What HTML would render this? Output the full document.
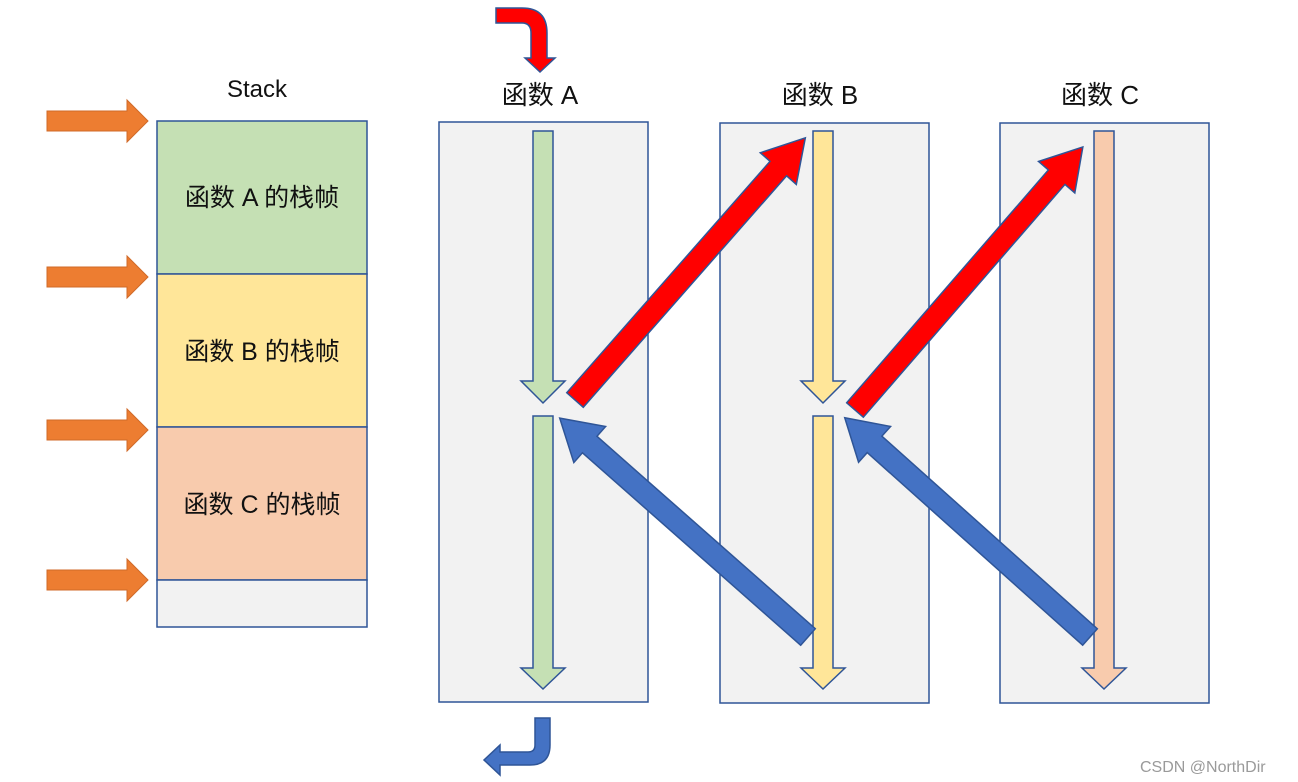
<!DOCTYPE html>
<html><head><meta charset="utf-8"><style>
html,body{margin:0;padding:0;background:#fff;}
svg{display:block;}
text{font-family:"Liberation Sans","Noto Sans CJK SC",sans-serif;fill:#111;}
</style></head><body>
<svg width="1298" height="782" viewBox="0 0 1298 782" xmlns="http://www.w3.org/2000/svg">
<defs>
<g id="oarr"><polygon points="0,-10 80,-10 80,-21 101,0 80,21 80,10 0,10" fill="#ed7d31" stroke="#d06a28" stroke-width="1"/></g>
</defs>
<!-- Stack -->
<text x="257" y="97" font-size="24" text-anchor="middle">Stack</text>
<rect x="157" y="121" width="210" height="153" fill="#c5e0b4" stroke="#2f5597" stroke-width="1.5"/>
<rect x="157" y="274" width="210" height="153" fill="#ffe699" stroke="#2f5597" stroke-width="1.5"/>
<rect x="157" y="427" width="210" height="153" fill="#f8cbad" stroke="#2f5597" stroke-width="1.5"/>
<rect x="157" y="580" width="210" height="47" fill="#f2f2f2" stroke="#2f5597" stroke-width="1.5"/>
<text x="262" y="206" font-size="25" text-anchor="middle">函数 A 的栈帧</text>
<text x="262" y="360" font-size="25" text-anchor="middle">函数 B 的栈帧</text>
<text x="262" y="513" font-size="25" text-anchor="middle">函数 C 的栈帧</text>
<use href="#oarr" x="47" y="121"/>
<use href="#oarr" x="47" y="277"/>
<use href="#oarr" x="47" y="430"/>
<use href="#oarr" x="47" y="580"/>
<!-- panels -->
<rect x="439" y="122" width="209" height="580" fill="#f2f2f2" stroke="#2f5597" stroke-width="1.5"/>
<rect x="720" y="123" width="209" height="580" fill="#f2f2f2" stroke="#2f5597" stroke-width="1.5"/>
<rect x="1000" y="123" width="209" height="580" fill="#f2f2f2" stroke="#2f5597" stroke-width="1.5"/>
<text x="540" y="104" font-size="26" text-anchor="middle">函数 A</text>
<text x="820" y="104" font-size="26" text-anchor="middle">函数 B</text>
<text x="1100" y="104" font-size="26" text-anchor="middle">函数 C</text>
<!-- down arrows -->
<g stroke="#2f5597" stroke-width="1.5">
<polygon points="533,131 553,131 553,381 565,381 543,403 521,381 533,381" fill="#c5e0b4"/>
<polygon points="533,416 553,416 553,668 565,668 543,689 521,668 533,668" fill="#c5e0b4"/>
<polygon points="813,131 833,131 833,381 845,381 823,403 801,381 813,381" fill="#ffe699"/>
<polygon points="813,416 833,416 833,668 845,668 823,689 801,668 813,668" fill="#ffe699"/>
<polygon points="1094,131 1114,131 1114,668 1126,668 1104,689 1082,668 1094,668" fill="#f8cbad"/>
</g>
<!-- diagonal arrows -->
<g stroke="#2f5597" stroke-width="1.5">
<polygon transform="translate(575,400) rotate(-48.7)" points="0,-11 308,-11 308,-24 349,0 308,24 308,11 0,11" fill="#ff0000"/>
<polygon transform="translate(855,410) rotate(-49.1)" points="0,-11 308,-11 308,-24 348,0 308,24 308,11 0,11" fill="#ff0000"/>
<polygon transform="translate(808,637) rotate(-138.6)" points="0,-11 291,-11 291,-24 331,0 291,24 291,11 0,11" fill="#4472c4"/>
<polygon transform="translate(1090,637) rotate(-138.2)" points="0,-11 289,-11 289,-24 329,0 289,24 289,11 0,11" fill="#4472c4"/>
</g>
<!-- curved arrows -->
<path d="M496,8 L522,8 Q547,8 547,33 L547,58 L555,58 L540,72 L525,58 L531,58 L531,33 Q531,23 522,23 L496,23 Z" fill="#ff0000" stroke="#2f5597" stroke-width="1.5"/>
<path d="M535,718 L550,718 L550,745 Q550,765 530,765 L500,765 L500,775 L484,760 L500,745 L500,752 L528,752 Q535,752 535,745 Z" fill="#4472c4" stroke="#2f5597" stroke-width="1.5"/>
<text x="1140" y="772" font-size="16" fill="#999" style="fill:#9a9a9a">CSDN @NorthDir</text>
</svg>
</body></html>
